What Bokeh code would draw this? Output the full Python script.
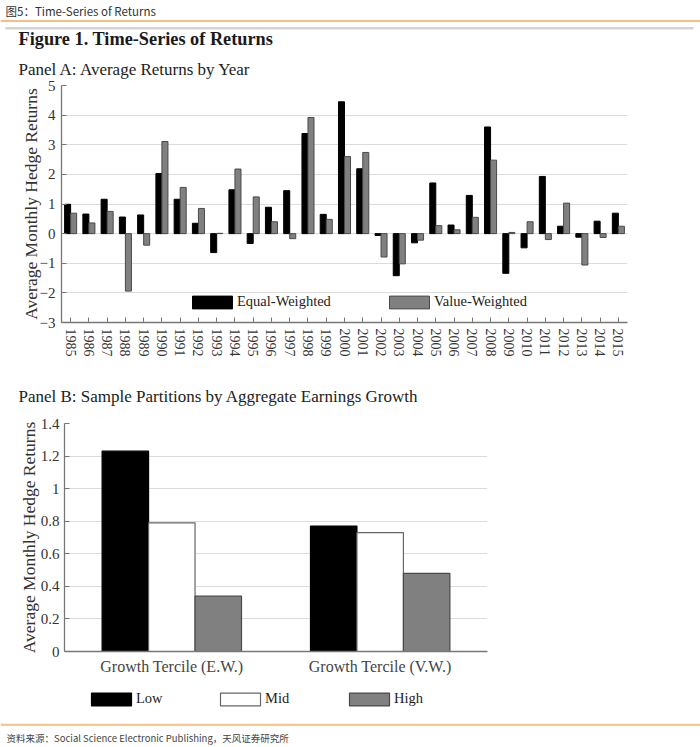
from bokeh.plotting import figure
from bokeh.models import (Range1d, FactorRange, FixedTicker, Legend, LegendItem, Label,
                          ColumnDataSource)
from bokeh.transform import dodge
from bokeh.embed import file_html
from bokeh.resources import INLINE

# ---------------- data ----------------
years = list(range(1985, 2016))
equal_weighted = [0.99, 0.66, 1.16, 0.56, 0.63, 2.03, 1.16, 0.35, -0.64, 1.48, -0.33, 0.89, 1.45, 3.38, 0.65,
                  4.45, 2.19, -0.06, -1.42, -0.31, 1.71, 0.29, 1.29, 3.60, -1.34, -0.48, 1.93, 0.25, -0.12,
                  0.42, 0.69]
value_weighted = [0.69, 0.36, 0.75, -1.94, -0.39, 3.11, 1.56, 0.85, 0.01, 2.18, 1.24, 0.40, -0.17, 3.92, 0.48,
                  2.60, 2.74, -0.79, -1.02, -0.22, 0.27, 0.13, 0.55, 2.48, 0.04, 0.40, -0.20, 1.03, -1.06,
                  -0.13, 0.25]
panel_a_ticks = [-3, -2, -1, 0, 1, 2, 3, 4, 5]

groups = ["Growth Tercile (E.W.)", "Growth Tercile (V.W.)"]
terciles = ["Low", "Mid", "High"]
low = [1.23, 0.77]
mid = [0.79, 0.73]
high = [0.34, 0.48]
panel_b_ticks = [0, 0.2, 0.4, 0.6, 0.8, 1.0, 1.2, 1.4]

SERIF = "Liberation Serif"
SANS = "Noto Sans CJK SC"
W = 700


def blank(height):
    """A figure whose data space equals its pixel space (y downward), for page furniture."""
    f = figure(width=W, height=height, x_range=Range1d(0, W), y_range=Range1d(height, 0),
               toolbar_location=None, output_backend="svg", min_border=0)
    f.axis.visible = False
    f.grid.visible = False
    f.outline_line_color = None
    return f


def legend_style(**kw):
    base = dict(orientation="horizontal", glyph_width=50, glyph_height=16, label_standoff=-2,
                padding=0, margin=0, spacing=0, border_line_alpha=0, background_fill_alpha=0,
                label_text_font=SERIF, label_text_font_size="14.5px", label_text_color="#222222",
                label_height=16)
    base.update(kw)
    return base


def style_axis(ax):
    ax.major_tick_out = 0
    ax.minor_tick_line_color = None
    ax.axis_line_color = "#777777"
    ax.axis_line_width = 1.3
    ax.major_tick_line_color = "#777777"
    ax.major_label_text_font = SERIF
    ax.major_label_text_color = "#333333"


# ---------------- header ----------------
hdr = blank(79)
hdr.segment(x0=[0], y0=[20.5], x1=[W], y1=[20.5], line_color="#F9BE86", line_width=2)
hdr.segment(x0=[5], y0=[27.7], x1=[693], y1=[27.7], line_color="#D4D4D4", line_width=2.5)
hdr.add_layout(Label(x=5, y=10, text="图5：Time-Series of Returns", text_font=SANS,
                     text_font_size="11.5px", text_color="#333333", text_baseline="middle"))
hdr.add_layout(Label(x=18, y=38, text="Figure 1. Time-Series of Returns", text_font=SERIF,
                     text_font_size="18.3px", text_font_style="bold", text_color="#1a1a1a",
                     text_baseline="middle"))
hdr.add_layout(Label(x=18, y=68.5, text="Panel A: Average Returns by Year", text_font=SERIF,
                     text_font_size="17px", text_color="#222222", text_baseline="middle"))

# ---------------- panel A ----------------
srcA = ColumnDataSource(dict(year=years, ew=equal_weighted, vw=value_weighted))
pA = figure(width=W, height=301, x_range=Range1d(1984.5, 2015.5), y_range=Range1d(-3, 5),
            toolbar_location=None, output_backend="svg",
            min_border_left=61, min_border_right=73, min_border_top=6, min_border_bottom=58)
pA.outline_line_color = None
r_ew = pA.vbar(x=dodge("year", -0.165, range=pA.x_range), top="ew", width=0.33, source=srcA,
               fill_color="black", line_color="black", line_width=1)
r_vw = pA.vbar(x=dodge("year", 0.165, range=pA.x_range), top="vw", width=0.33, source=srcA,
               fill_color="#808080", line_color="#4a4a4a", line_width=1)

pA.xgrid.visible = False
pA.ygrid.ticker = FixedTicker(ticks=panel_a_ticks)
pA.ygrid.grid_line_color = "#dcdcdc"
pA.ygrid.grid_line_width = 1.2

pA.xaxis.ticker = FixedTicker(ticks=years)
pA.xaxis.major_label_overrides = {y: str(y) for y in years}
pA.xaxis.major_label_orientation = "vertical"
pA.yaxis.ticker = FixedTicker(ticks=panel_a_ticks)
pA.yaxis.axis_label = "Average Monthly Hedge Returns"
for ax in (pA.xaxis[0], pA.yaxis[0]):
    style_axis(ax)
    ax.major_tick_in = 5
    ax.major_label_standoff = 6
pA.xaxis.major_label_text_font_size = "14px"
pA.yaxis.major_label_text_font_size = "15px"
pA.yaxis.axis_label_text_font = SERIF
pA.yaxis.axis_label_text_font_size = "17.5px"
pA.yaxis.axis_label_text_font_style = "normal"
pA.yaxis.axis_label_text_color = "#333333"
pA.yaxis.axis_label_standoff = -4

pA.add_layout(Legend(items=[LegendItem(label="Equal-Weighted", renderers=[r_ew])], location=(126, 12),
                     **legend_style()))
pA.add_layout(Legend(items=[LegendItem(label="Value-Weighted", renderers=[r_vw])], location=(323, 12),
                     **legend_style()))

# ---------------- panel B title ----------------
mid_title = blank(32)
mid_title.add_layout(Label(x=18, y=16, text="Panel B: Sample Partitions by Aggregate Earnings Growth",
                           text_font=SERIF, text_font_size="17px", text_color="#222222",
                           text_baseline="middle"))

# ---------------- panel B ----------------
srcB = ColumnDataSource(dict(group=groups, low=low, mid=mid, high=high))
pB = figure(width=W, height=268,
            x_range=FactorRange(factors=groups, range_padding=0.015, range_padding_units="absolute"),
            y_range=Range1d(0, 1.4), toolbar_location=None, output_backend="svg",
            min_border_left=64, min_border_right=213, min_border_top=11, min_border_bottom=29)
pB.outline_line_color = None
bw = 0.223
bar_styles = [("low", "black", "black", -bw), ("mid", "white", "#666666", 0.0),
              ("high", "#808080", "#4a4a4a", bw)]
for col, fc, lc, off in bar_styles:
    pB.vbar(x=dodge("group", off, range=pB.x_range), top=col, width=bw, source=srcB,
            fill_color=fc, line_color=lc, line_width=1.2)

pB.xgrid.visible = False
pB.ygrid.ticker = FixedTicker(ticks=panel_b_ticks)
pB.ygrid.grid_line_color = "#dcdcdc"
pB.ygrid.grid_line_width = 1.2
pB.yaxis.ticker = FixedTicker(ticks=panel_b_ticks)
pB.yaxis.major_label_overrides = {0: "0", 1.0: "1"}
pB.yaxis.axis_label = "Average Monthly Hedge Returns"
for ax in (pB.xaxis[0], pB.yaxis[0]):
    style_axis(ax)
    ax.major_label_text_font_size = "15px"
pB.xaxis.major_tick_in = 0
pB.xaxis.major_tick_line_color = None
pB.xaxis.major_label_standoff = 6
pB.xaxis.major_label_text_font_size = "16px"
pB.xaxis.major_label_text_color = "#444444"
pB.yaxis.major_tick_in = 5
pB.yaxis.major_label_standoff = 5
pB.yaxis.axis_label_text_font = SERIF
pB.yaxis.axis_label_text_font_size = "17.5px"
pB.yaxis.axis_label_text_font_style = "normal"
pB.yaxis.axis_label_text_color = "#333333"
pB.yaxis.axis_label_standoff = -1

# ---------------- footer: panel B legend + source line ----------------
ftr = blank(66)
# hidden copies of the panel B bar series, used only as legend swatches
swatches = []
for col, fc, lc, off in bar_styles:
    swatches.append(ftr.vbar(x=dodge("group", off, range=pB.x_range), top=col, width=bw, source=srcB,
                             fill_color=fc, line_color=lc, line_width=1.2, visible=False))
ftr.add_layout(Legend(items=[LegendItem(label=t, renderers=[r]) for t, r in zip(terciles, swatches)],
                      location=(86, 39), **legend_style(label_width=79)))
ftr.segment(x0=[0], y0=[44.3], x1=[W], y1=[44.3], line_color="#F9BE86", line_width=2)
ftr.add_layout(Label(x=6, y=57, text="资料来源：Social Science Electronic Publishing，天风证券研究所",
                     text_font=SANS, text_font_size="9.5px", text_color="#444444",
                     text_baseline="middle"))

open("out.html", "w").write(file_html([hdr, pA, mid_title, pB, ftr], INLINE))
